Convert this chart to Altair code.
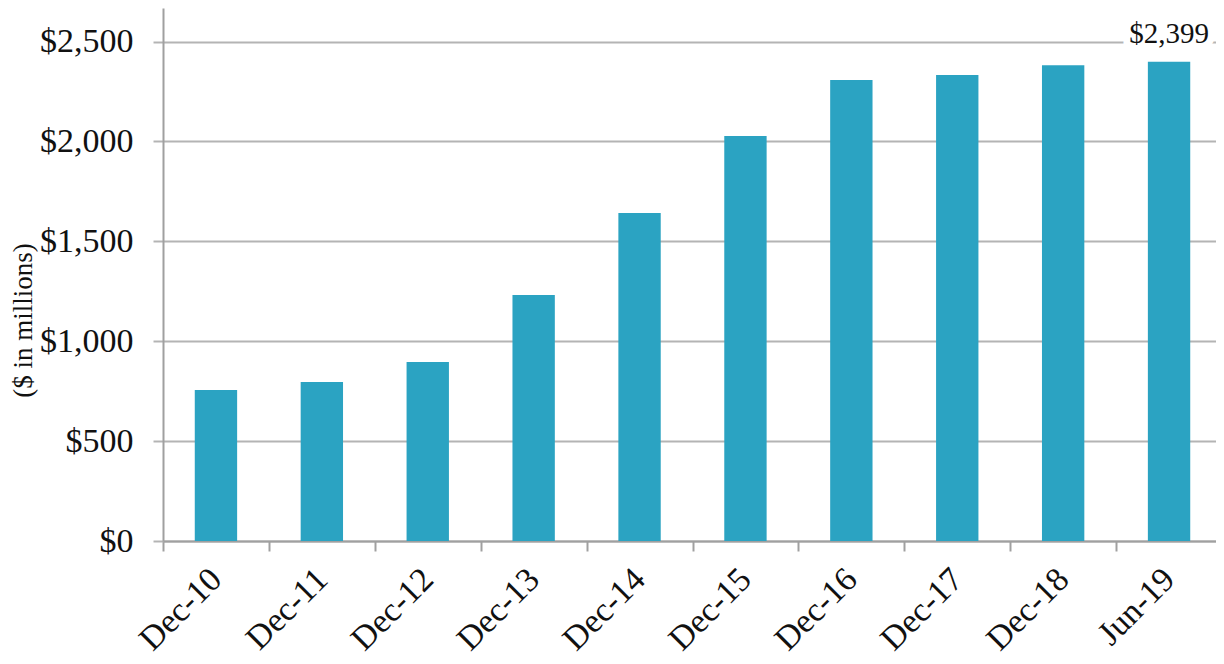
import altair as alt
import pandas as pd

periods = ["Dec-10", "Dec-11", "Dec-12", "Dec-13", "Dec-14", "Dec-15",
           "Dec-16", "Dec-17", "Dec-18", "Jun-19"]
values = [756, 796, 896, 1231, 1642, 2027, 2307, 2332, 2382, 2399]
y_ticks = [0, 500, 1000, 1500, 2000, 2500]
annot_period = "Jun-19"
annot_text = "$2,399"

df = pd.DataFrame({"period": periods, "value": values})
ann = pd.DataFrame({"period": [annot_period],
                    "value": [values[periods.index(annot_period)]],
                    "label": [annot_text]})

FONT = "Liberation Serif"
GRID = "#b4b4b4"
AXIS = "#a0a0a0"

x_scale = alt.Scale(paddingInner=0, paddingOuter=0, range=[0, 1059])

x = alt.X("period:N", sort=periods, scale=x_scale,
          axis=alt.Axis(title=None, labelAngle=-45, labelAlign="right",
                        labelBaseline="middle", labelFont=FONT,
                        labelFontSize=34, labelColor="#111111",
                        labelPadding=23, tickBand="extent", tickSize=10,
                        tickColor=AXIS, tickWidth=2, domainColor=AXIS,
                        domainWidth=2, grid=False))
y = alt.Y("value:Q",
          scale=alt.Scale(domain=[0, 2668], nice=False, zero=True),
          axis=alt.Axis(title="($ in millions)", values=y_ticks,
                        format="$,.0f", labelFont=FONT, labelFontSize=34,
                        labelColor="#111111", labelPadding=20,
                        tickSize=10, tickColor=GRID, tickWidth=2,
                        domainColor=AXIS, domainWidth=2,
                        grid=True, gridColor=GRID, gridWidth=2,
                        titleFont=FONT, titleFontSize=27,
                        titleFontWeight="normal", titleColor="#111111",
                        titleAngle=-90, titleX=-140, titleY=312,
                        titleAlign="center", titleBaseline="middle"))

bars = alt.Chart(df).mark_bar(
    color="#2BA3C2", width=alt.RelativeBandSize(0.4)
).encode(x=x, y=y)

halo = alt.Chart(ann).mark_text(
    font=FONT, fontSize=29, dy=-28, baseline="middle",
    stroke="white", strokeWidth=14, fill="white"
).encode(x=alt.X("period:N", sort=periods), y="value:Q", text="label:N")

label = alt.Chart(ann).mark_text(
    font=FONT, fontSize=29, dy=-28, baseline="middle", color="#111111"
).encode(x=alt.X("period:N", sort=periods), y="value:Q", text="label:N")

chart = alt.layer(bars, halo, label).properties(
    width=1051, height=533,
    autosize=alt.AutoSizeParams(type="none"),
    padding={"left": 155, "top": 0, "right": 2, "bottom": 115},
    background="white",
).configure_view(stroke=None)

chart.save("out.html", embed_options={"renderer": "svg", "actions": False})
